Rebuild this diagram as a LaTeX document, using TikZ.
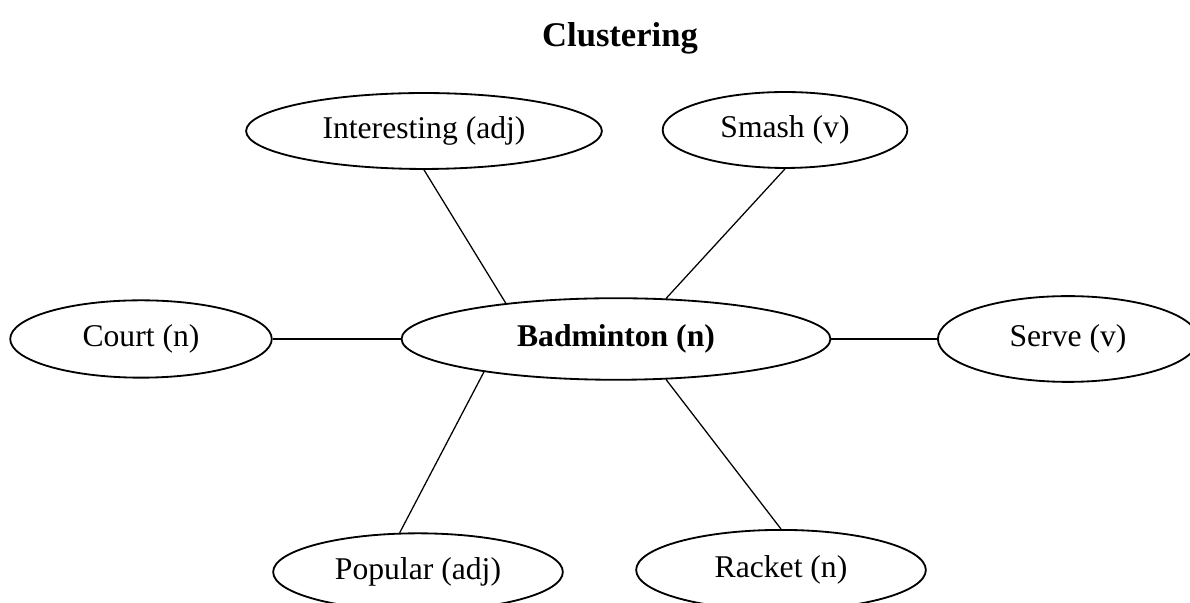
\documentclass[tikz,border=0pt]{standalone}
\usepackage{fontspec}
\setmainfont{Liberation Serif}
\usepackage{tikz}
\usetikzlibrary{shapes.geometric}

\begin{document}
\begin{tikzpicture}[
    x=0.025cm, y=0.025cm,
    word/.style={ellipse, draw, line width=1.3pt, inner sep=0pt,
                 font=\fontsize{22.5}{26}\selectfont},
    hub/.style={word, font=\fontsize{22.5}{26}\selectfont\bfseries},
    link/.style={line width=0.9pt},
  ]
    \useasboundingbox (0,0) rectangle (1190,603);

    % Title
    \node[font=\fontsize{24.6}{28}\selectfont\bfseries] (title) at (620,565) {Clustering};

    % Center
    \node[hub, minimum width=305, minimum height=58] (badminton) at (616,264) {Badminton (n)};

    % Words round it
    \node[word, minimum width=253, minimum height=54] (interesting) at (424,472) {Interesting (adj)};
    \node[word, minimum width=174, minimum height=54] (smash) at (785,473) {Smash (v)};
    \node[word, minimum width=186, minimum height=55] (court) at (141,264) {Court (n)};
    \node[word, minimum width=185, minimum height=61] (serve) at (1068,264) {Serve (v)};
    \node[word, minimum width=206, minimum height=55] (popular) at (418,31) {Popular (adj)};
    \node[word, minimum width=206, minimum height=57] (racket) at (781,33) {Racket (n)};

    % Links
    \draw[link] (interesting.south) -- (badminton.162);
    \draw[link] (smash.south) -- (badminton.39);
    \draw[link] (court.east) -- (badminton.west);
    \draw[link] (badminton.east) -- (serve.west);
    \draw[link] (popular.115) -- (badminton.194);
    \draw[link] (racket.north) -- (badminton.-39);
  \end{tikzpicture}
\end{document}
